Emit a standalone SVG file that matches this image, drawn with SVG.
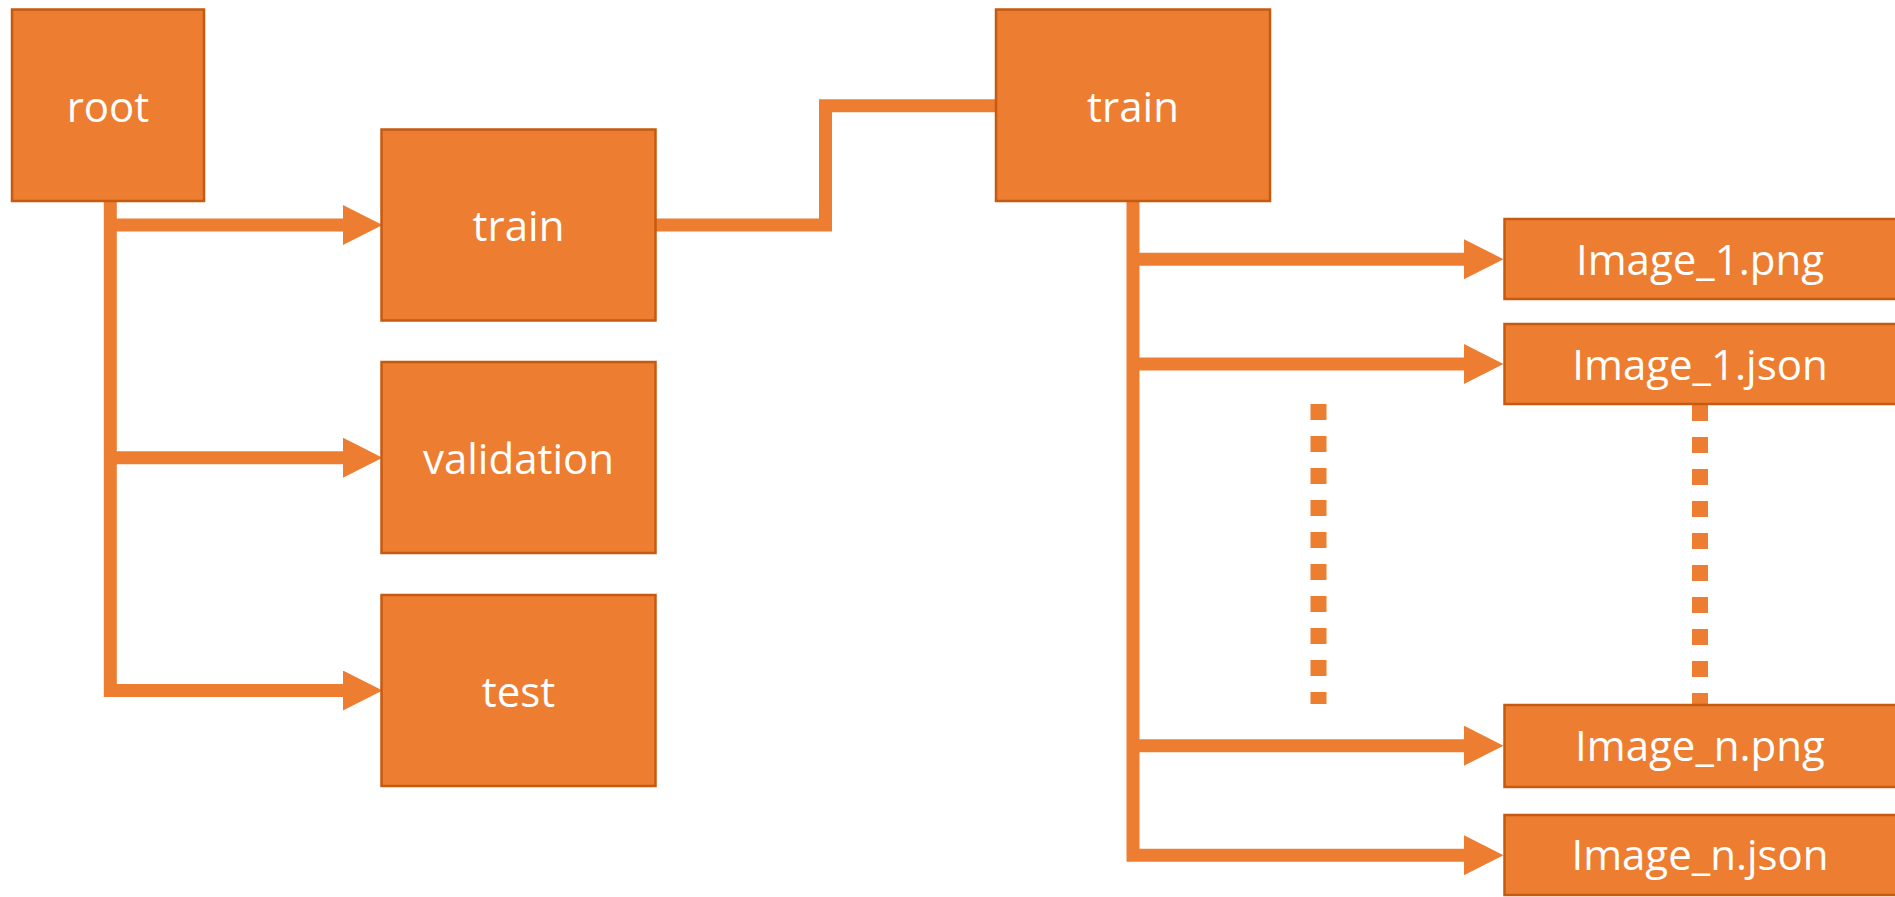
<svg xmlns="http://www.w3.org/2000/svg" width="1895" height="897" viewBox="0 0 1895 897">
  <style>
    .box { fill: #ED7D31; stroke: #C55A11; stroke-width: 2.5; }
    .label { fill: #FFFFFF; font-family: "Open Sans", "Liberation Sans", sans-serif; font-size: 42px; text-anchor: middle; }
    .wire { fill: none; stroke: #ED7D31; stroke-width: 13; stroke-linejoin: miter; }
    .arrow { marker-end: url(#head); }
    .dots { fill: none; stroke: #ED7D31; stroke-width: 16; stroke-dasharray: 16 16; }
  </style>
  <defs>
    <marker id="head" markerUnits="userSpaceOnUse" markerWidth="40" markerHeight="40" refX="1" refY="20" orient="auto">
      <path d="M0,0 L39.5,20 L0,40 Z" fill="#ED7D31"/>
    </marker>
  </defs>
  <rect width="1895" height="897" fill="#FFFFFF"/>

  <!-- connectors -->
  <g id="connectors">
    <!-- root tree -->
    <path class="wire arrow" d="M110.3,202 V690.5 H344"/>
    <path class="wire arrow" d="M110.3,225 H344"/>
    <path class="wire arrow" d="M110.3,457.7 H344"/>
    <!-- train to expanded train -->
    <path class="wire" d="M656,225 H825.5 V105.7 H996"/>
    <!-- expanded train tree -->
    <path class="wire arrow" d="M1133,202 V855.2 H1465"/>
    <path class="wire arrow" d="M1133,259.2 H1465"/>
    <path class="wire arrow" d="M1133,364 H1465"/>
    <path class="wire arrow" d="M1133,745.7 H1465"/>
    <!-- ellipsis lines -->
    <path class="dots" d="M1318.5,404 V704"/>
    <path class="dots" d="M1700,405 V704"/>
  </g>

  <g id="root">
    <rect class="box" x="12" y="9.5" width="192" height="191.5"/>
    <text class="label" x="108" y="122">root</text>
  </g>
  <g id="train">
    <rect class="box" x="381.5" y="129.5" width="274" height="191"/>
    <text class="label" x="518.5" y="241">train</text>
  </g>
  <g id="validation">
    <rect class="box" x="381.5" y="362" width="274" height="191"/>
    <text class="label" x="518.5" y="474">validation</text>
  </g>
  <g id="test">
    <rect class="box" x="381.5" y="595" width="274" height="191"/>
    <text class="label" x="518.5" y="707">test</text>
  </g>
  <g id="train-expanded">
    <rect class="box" x="996" y="9.5" width="274" height="191.5"/>
    <text class="label" x="1133" y="122">train</text>
  </g>
  <g id="image-1-png">
    <rect class="box" x="1504.5" y="219" width="400" height="80"/>
    <text class="label" x="1700" y="275">Image_1.png</text>
  </g>
  <g id="image-1-json">
    <rect class="box" x="1504.5" y="324" width="400" height="80"/>
    <text class="label" x="1700" y="380">Image_1.json</text>
  </g>
  <g id="image-n-png">
    <rect class="box" x="1504.5" y="705" width="400" height="82"/>
    <text class="label" x="1700" y="761">Image_n.png</text>
  </g>
  <g id="image-n-json">
    <rect class="box" x="1504.5" y="815" width="400" height="80"/>
    <text class="label" x="1700" y="870">Image_n.json</text>
  </g>
</svg>
